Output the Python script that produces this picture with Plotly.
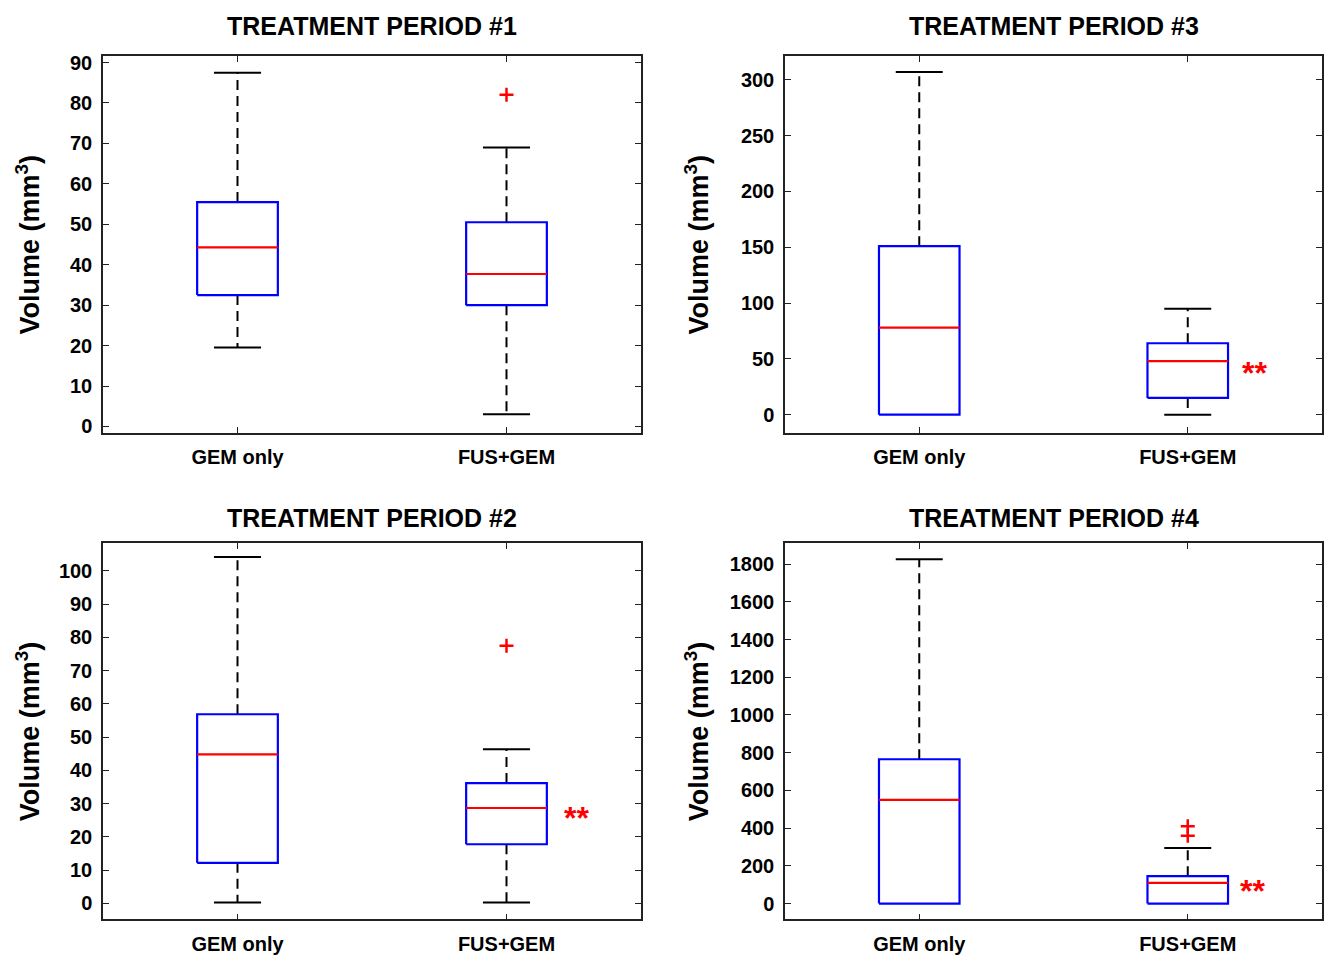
import plotly.graph_objects as go

categories = ["GEM only", "FUS+GEM"]
titles = ["TREATMENT PERIOD #1", "TREATMENT PERIOD #3", "TREATMENT PERIOD #2", "TREATMENT PERIOD #4"]

# Treatment period 1
tp1_lower = [19.5, 3.0]
tp1_q1 = [32.5, 30.0]
tp1_median = [44.3, 37.7]
tp1_q3 = [55.5, 50.5]
tp1_upper = [87.5, 69.0]
tp1_outliers = [[], [82.0]]

# Treatment period 3
tp3_lower = [0.0, 0.0]
tp3_q1 = [0.0, 15.0]
tp3_median = [78.0, 48.0]
tp3_q3 = [151.0, 64.0]
tp3_upper = [307.0, 95.0]
tp3_outliers = [[], []]

# Treatment period 2
tp2_lower = [0.3, 0.3]
tp2_q1 = [12.2, 17.8]
tp2_median = [44.8, 28.7]
tp2_q3 = [56.9, 36.2]
tp2_upper = [104.2, 46.4]
tp2_outliers = [[], [77.5]]

# Treatment period 4
tp4_lower = [0.0, 0.0]
tp4_q1 = [0.0, 0.0]
tp4_median = [550.0, 110.0]
tp4_q3 = [765.0, 145.0]
tp4_upper = [1825.0, 295.0]
tp4_outliers = [[], [360.0, 410.0]]

# significance marks (x position, y value), None if absent
tp1_sig = None
tp3_sig = (2.25, 44.0)
tp2_sig = (2.26, 27.7)
tp4_sig = (2.24, 105.0)

tp1_ticks = list(range(0, 91, 10))
tp3_ticks = list(range(0, 301, 50))
tp2_ticks = list(range(0, 101, 10))
tp4_ticks = list(range(0, 1801, 200))

panels = [
    (tp1_lower, tp1_q1, tp1_median, tp1_q3, tp1_upper, tp1_outliers, tp1_sig, tp1_ticks, [-1.5, 91.5]),
    (tp3_lower, tp3_q1, tp3_median, tp3_q3, tp3_upper, tp3_outliers, tp3_sig, tp3_ticks, [-16, 321]),
    (tp2_lower, tp2_q1, tp2_median, tp2_q3, tp2_upper, tp2_outliers, tp2_sig, tp2_ticks, [-4.8, 108.3]),
    (tp4_lower, tp4_q1, tp4_median, tp4_q3, tp4_upper, tp4_outliers, tp4_sig, tp4_ticks, [-84, 1910]),
]

W, H = 1328, 961
# pixel boxes (left, right, top, bottom)
boxes_px = [(103, 641, 52, 432), (785, 1322, 52, 432), (103, 641, 544, 924), (785, 1322, 544, 924)]
title_y_px = [21, 21, 518, 518]
ylabel_x_px = [28, 697, 28, 697]

FONT = "Liberation Sans, Arial, Helvetica, sans-serif"
BW = 0.15   # half box width
CW = 0.0875  # half cap width

fig = go.Figure()
annotations = []

for i, (lo, q1, med, q3, up, outs, sig, ticks, yr) in enumerate(panels):
    n = "" if i == 0 else str(i + 1)
    xa, ya = "x" + n, "y" + n
    L, R, T, B = boxes_px[i]
    fig.layout["xaxis" + n] = dict(
        domain=[L / W, R / W], anchor=ya, range=[0.5, 2.5],
        tickvals=[1, 2], ticktext=categories, ticks="inside", ticklen=6,
        tickcolor="#222", mirror="allticks", showline=True, linecolor="#222",
        linewidth=1.5, showgrid=False, zeroline=False, ticklabelstandoff=6,
        tickfont=dict(family=FONT, size=20, color="black", weight="bold"),
    )
    fig.layout["yaxis" + n] = dict(
        domain=[1 - B / H, 1 - T / H], anchor=xa, range=yr,
        tickvals=ticks, ticks="inside", ticklen=6, tickcolor="#222",
        mirror="allticks", showline=True, linecolor="#222", linewidth=1.5,
        showgrid=False, zeroline=False, ticklabelstandoff=5,
        tickfont=dict(family=FONT, size=20, color="black", weight="bold"),
    )
    for j in range(len(categories)):
        x = j + 1
        wx, wy, cx, cy = [], [], [], []
        if up[j] > q3[j]:
            wx += [x, x, None]; wy += [q3[j], up[j], None]
            cx += [x - CW, x + CW, None]; cy += [up[j], up[j], None]
        if lo[j] < q1[j]:
            wx += [x, x, None]; wy += [q1[j], lo[j], None]
            cx += [x - CW, x + CW, None]; cy += [lo[j], lo[j], None]
        if wx:
            fig.add_trace(go.Scatter(
                x=wx, y=wy, mode="lines",
                line=dict(color="black", width=2, dash="10px,6px"),
                xaxis=xa, yaxis=ya, showlegend=False, hoverinfo="skip"))
            fig.add_trace(go.Scatter(
                x=cx, y=cy, mode="lines", line=dict(color="black", width=2),
                xaxis=xa, yaxis=ya, showlegend=False, hoverinfo="skip"))
        fig.add_trace(go.Scatter(
            x=[x - BW, x + BW, x + BW, x - BW, x - BW],
            y=[q1[j], q1[j], q3[j], q3[j], q1[j]],
            mode="lines", line=dict(color="#0000ff", width=2.2),
            xaxis=xa, yaxis=ya, showlegend=False, hoverinfo="skip"))
        fig.add_trace(go.Scatter(
            x=[x - BW, x + BW], y=[med[j], med[j]],
            mode="lines", line=dict(color="#ff0000", width=2.2),
            xaxis=xa, yaxis=ya, showlegend=False, hoverinfo="skip"))
        if outs[j]:
            fig.add_trace(go.Scatter(
                x=[x] * len(outs[j]), y=outs[j], mode="markers",
                marker=dict(symbol="cross-thin", size=10, line=dict(color="#ff0000", width=2.5)),
                xaxis=xa, yaxis=ya, showlegend=False, hoverinfo="skip"))
    if sig is not None:
        annotations.append(dict(
            x=sig[0], y=sig[1], xref=xa, yref=ya, text="**", showarrow=False,
            font=dict(family=FONT, size=32, color="#ff0000", weight="bold"),
            yshift=-7, xanchor="center", yanchor="middle"))
    annotations.append(dict(
        x=(L + R) / 2 / W, y=1 - title_y_px[i] / H, xref="paper", yref="paper",
        text=titles[i], showarrow=False, xanchor="center", yanchor="middle",
        font=dict(family=FONT, size=25, color="black", weight="bold")))
    annotations.append(dict(
        x=ylabel_x_px[i] / W, y=1 - (T + B) / 2 / H, xref="paper", yref="paper",
        text="Volume (mm<sup>3</sup>)", showarrow=False, textangle=-90,
        xanchor="center", yanchor="middle",
        font=dict(family=FONT, size=27, color="black", weight="bold")))

fig.update_layout(
    width=W, height=H, margin=dict(l=0, r=0, t=0, b=0),
    paper_bgcolor="white", plot_bgcolor="white",
    annotations=annotations, showlegend=False,
)
fig.write_html("out.html")
